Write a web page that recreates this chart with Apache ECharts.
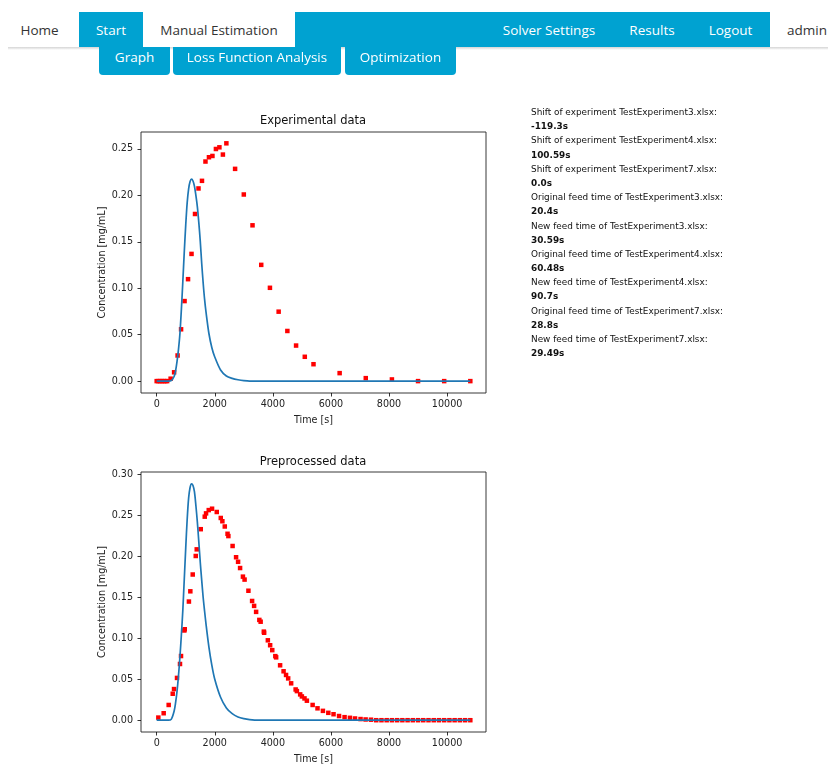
<!DOCTYPE html>
<html>
<head>
<meta charset="utf-8">
<script src="https://cdn.jsdelivr.net/npm/echarts@6/dist/echarts.min.js"></script>
<style>
  html, body { margin:0; padding:0; background:#fff; width:828px; height:765px; overflow:hidden; }
  #chart { position:absolute; left:0; top:0; width:828px; height:765px; }
  .nav { position:absolute; top:12px; height:35px; line-height:36px; font-family:"Open Sans", sans-serif; font-size:13.5px; text-align:center; white-space:nowrap; }
  .blue { background:#00a2d1; color:#fff; }
  .white { background:#fff; color:#333; }
  .shadow { position:absolute; top:47px; left:8px; width:820px; height:3px; background:linear-gradient(#d4d4d4, rgba(255,255,255,0)); }
  .btn { position:absolute; top:47px; height:28px; line-height:21px; background:#00a2d1; color:#fff; font-family:"Open Sans", sans-serif; font-size:13.5px; text-align:center; border-radius:0 0 4px 4px; white-space:nowrap; }
  #info { position:absolute; left:531px; top:105px; font-family:"DejaVu Sans", sans-serif; font-size:8.9px; color:#111; line-height:14.18px; white-space:nowrap; }
  #info b { font-weight:bold; }
</style>
</head>
<body>
<div id="chart"></div>

<div class="shadow"></div>
<div class="nav white" style="left:0;width:79px;">Home</div>
<div class="nav blue" style="left:79px;width:64px;">Start</div>
<div class="nav white" style="left:143px;width:152px;">Manual Estimation</div>
<div class="nav blue" style="left:295px;width:475px;"></div>
<div class="nav" style="left:502px;width:94px;color:#fff;">Solver Settings</div>
<div class="nav" style="left:622px;width:60px;color:#fff;">Results</div>
<div class="nav" style="left:700px;width:61px;color:#fff;">Logout</div>
<div class="nav white" style="left:770px;width:70px;text-align:left;padding-left:17px;">admin</div>

<div class="btn" style="left:99px;width:71px;">Graph</div>
<div class="btn" style="left:173px;width:168px;">Loss Function Analysis</div>
<div class="btn" style="left:345px;width:111px;">Optimization</div>

<div id="info"></div>

<script>
// ---------- DATA ----------
const xTicks = [0, 2000, 4000, 6000, 8000, 10000];
const yTicksTop = [0, 0.05, 0.10, 0.15, 0.20, 0.25];
const yTicksBottom = [0, 0.05, 0.10, 0.15, 0.20, 0.25, 0.30];

// Experimental data (red squares)
const expTime = [0, 60, 120, 180, 240, 300, 360, 480, 600, 720, 840, 960, 1080, 1200, 1320, 1440, 1560, 1680, 1800, 1920, 2040, 2160, 2280, 2400, 2700, 3000, 3300, 3600, 3900, 4200, 4500, 4800, 5100, 5400, 6300, 7200, 8100, 9000, 9900, 10800];
const expConc = [0, 0, 0, 0, 0, 0, 0, 0.0026, 0.0095, 0.0276, 0.0558, 0.0862, 0.1098, 0.137, 0.180, 0.2075, 0.2157, 0.2365, 0.2411, 0.2425, 0.250, 0.2518, 0.244, 0.2561, 0.2286, 0.201, 0.1678, 0.1252, 0.1005, 0.0748, 0.054, 0.0383, 0.0262, 0.0182, 0.0086, 0.0032, 0.0018, 0, 0, 0];

// Model curve, experimental panel (blue line)
const modelTopTime = [0, 200, 400, 500, 600, 650, 700, 750, 800, 850, 900, 950, 1000, 1050, 1100, 1150, 1200, 1250, 1300, 1350, 1400, 1450, 1500, 1550, 1600, 1650, 1700, 1800, 1900, 2000, 2200, 2400, 2600, 2800, 3000, 3200, 4000, 6000, 8000, 10800];
const modelTopConc = [0, 0, 0, 0.0005, 0.005, 0.011, 0.021, 0.034, 0.051, 0.077, 0.107, 0.139, 0.168, 0.192, 0.207, 0.215, 0.2175, 0.2155, 0.210, 0.200, 0.188, 0.171, 0.151, 0.127, 0.106, 0.088, 0.074, 0.051, 0.036, 0.026, 0.012, 0.0055, 0.003, 0.0015, 0.0005, 0, 0, 0, 0, 0];

// Preprocessed data (red squares)
const preTime = [57, 241, 413, 552, 597, 700, 803, 838, 952, 966, 1110, 1159, 1241, 1345, 1379, 1517, 1655, 1700, 1793, 1907, 2069, 2207, 2262, 2345, 2440, 2469, 2614, 2734, 2803, 2872, 2970, 3027, 3159, 3286, 3355, 3424, 3535, 3580, 3690, 3700, 3828, 3907, 3980, 4085, 4114, 4250, 4370, 4455, 4528, 4630, 4785, 4828, 4941, 5000, 5090, 5172, 5370, 5538, 5724, 5910, 6090, 6280, 6470, 6655, 6830, 7020, 7195, 7380, 7560, 7740, 7920, 8100, 8280, 8460, 8640, 8820, 9000, 9180, 9360, 9540, 9720, 9900, 10080, 10260, 10440, 10620, 10800];
const preConc = [0.0032, 0.0085, 0.0186, 0.0323, 0.038, 0.0516, 0.0686, 0.0783, 0.1095, 0.111, 0.1448, 0.1573, 0.1778, 0.2004, 0.2085, 0.2331, 0.2484, 0.2524, 0.2564, 0.2581, 0.2541, 0.2468, 0.2428, 0.2364, 0.2275, 0.2247, 0.2126, 0.1989, 0.1933, 0.1857, 0.1752, 0.1716, 0.158, 0.1455, 0.1395, 0.1322, 0.1224, 0.1202, 0.1081, 0.1067, 0.0975, 0.0915, 0.0855, 0.0782, 0.0767, 0.067, 0.0597, 0.0552, 0.051, 0.045, 0.0375, 0.0355, 0.0315, 0.029, 0.0266, 0.0238, 0.0186, 0.0145, 0.0114, 0.009, 0.0073, 0.0051, 0.0037, 0.0029, 0.0021, 0.0014, 0.0009, 0.0006, 0, 0, 0, 0, 0, 0, 0, 0, 0, 0, 0, 0, 0, 0, 0, 0, 0, 0, 0];

// Model curve, preprocessed panel (blue line)
const modelBotTime = [0, 200, 400, 500, 600, 650, 700, 750, 800, 850, 900, 950, 1000, 1050, 1100, 1150, 1200, 1250, 1300, 1350, 1400, 1450, 1500, 1550, 1600, 1650, 1700, 1800, 1900, 2000, 2200, 2400, 2600, 2800, 3000, 3200, 3500, 4000, 6000, 8000, 10800];
const modelBotConc = [0, 0, 0, 0.001, 0.011, 0.021, 0.035, 0.054, 0.077, 0.104, 0.134, 0.172, 0.210, 0.245, 0.271, 0.284, 0.2885, 0.2865, 0.279, 0.262, 0.242, 0.218, 0.193, 0.171, 0.150, 0.133, 0.117, 0.089, 0.067, 0.050, 0.028, 0.015, 0.008, 0.004, 0.002, 0.0008, 0, 0, 0, 0, 0];

const infoLabels = [
  "Shift of experiment TestExperiment3.xlsx:", "-119.3s",
  "Shift of experiment TestExperiment4.xlsx:", "100.59s",
  "Shift of experiment TestExperiment7.xlsx:", "0.0s",
  "Original feed time of TestExperiment3.xlsx:", "20.4s",
  "New feed time of TestExperiment3.xlsx:", "30.59s",
  "Original feed time of TestExperiment4.xlsx:", "60.48s",
  "New feed time of TestExperiment4.xlsx:", "90.7s",
  "Original feed time of TestExperiment7.xlsx:", "28.8s",
  "New feed time of TestExperiment7.xlsx:", "29.49s"
];

// ---------- INFO TEXT ----------
document.getElementById('info').innerHTML = infoLabels.map((t, i) =>
  i % 2 === 0 ? '<div>' + t + '</div>' : '<div><b>' + t + '</b></div>').join('');

// ---------- CHART ----------
const FONT = 'DejaVu Sans';
const pairs = (xs, ys) => xs.map((x, i) => [x, ys[i]]);

function xAxisCfg(gi) {
  return {
    gridIndex: gi, type: 'value', min: -540, max: 11340,
    splitLine: { show: false }, axisLine: { show: false, onZero: false },
    axisTick: { show: true, customValues: xTicks, length: 3.5, lineStyle: { color: '#000', width: 0.8 } },
    axisLabel: { customValues: xTicks, fontSize: 9.6, color: '#222', margin: 6, fontFamily: FONT,
      formatter: v => String(v) },
    name: 'Time [s]', nameLocation: 'middle', nameGap: 22,
    nameTextStyle: { fontSize: 9.6, color: '#222', fontFamily: FONT }
  };
}
function yAxisCfg(gi, min, max, ticks) {
  return {
    gridIndex: gi, type: 'value', min: min, max: max,
    splitLine: { show: false }, axisLine: { show: false, onZero: false },
    axisTick: { show: true, customValues: ticks, length: 3.5, lineStyle: { color: '#000', width: 0.8 } },
    axisLabel: { customValues: ticks, fontSize: 9.6, color: '#222', margin: 8, fontFamily: FONT,
      formatter: v => v.toFixed(2) },
    name: 'Concentration [mg/mL]', nameLocation: 'middle', nameGap: 31,
    nameTextStyle: { fontSize: 9.6, color: '#222', fontFamily: FONT }
  };
}

const chart = echarts.init(document.getElementById('chart'), null, { renderer: 'canvas' });
chart.setOption({
  animation: false,
  backgroundColor: 'transparent',
  textStyle: { fontFamily: FONT },
  grid: [
    { left: 141, top: 132, width: 345, height: 261, show: true, borderColor: '#222', borderWidth: 0.9, backgroundColor: 'transparent' },
    { left: 141, top: 472, width: 345, height: 262, show: true, borderColor: '#222', borderWidth: 0.9, backgroundColor: 'transparent' }
  ],
  xAxis: [xAxisCfg(0), xAxisCfg(1)],
  yAxis: [yAxisCfg(0, -0.0128, 0.2683, yTicksTop), yAxisCfg(1, -0.0144, 0.3029, yTicksBottom)],
  graphic: [
    { type: 'text', x: 313, y: 121.5, style: { text: 'Experimental data', textAlign: 'center', textVerticalAlign: 'middle', align: 'center', verticalAlign: 'middle', fontSize: 11.5, fontFamily: FONT, fill: '#111' } },
    { type: 'text', x: 313, y: 462.5, style: { text: 'Preprocessed data', textAlign: 'center', textVerticalAlign: 'middle', align: 'center', verticalAlign: 'middle', fontSize: 11.5, fontFamily: FONT, fill: '#111' } }
  ],
  series: [
    { type: 'scatter', xAxisIndex: 0, yAxisIndex: 0, data: pairs(expTime, expConc), symbol: 'rect', symbolSize: 4.5, itemStyle: { color: '#ff0000', opacity: 1 } },
    { type: 'line', xAxisIndex: 0, yAxisIndex: 0, data: pairs(modelTopTime, modelTopConc), showSymbol: false, smooth: 0.3, lineStyle: { color: '#1f77b4', width: 1.7 } },
    { type: 'scatter', xAxisIndex: 1, yAxisIndex: 1, data: pairs(preTime, preConc), symbol: 'rect', symbolSize: 4.5, itemStyle: { color: '#ff0000', opacity: 1 } },
    { type: 'line', xAxisIndex: 1, yAxisIndex: 1, data: pairs(modelBotTime, modelBotConc), showSymbol: false, smooth: 0.3, lineStyle: { color: '#1f77b4', width: 1.7 } }
  ]
});
</script>
</body>
</html>
